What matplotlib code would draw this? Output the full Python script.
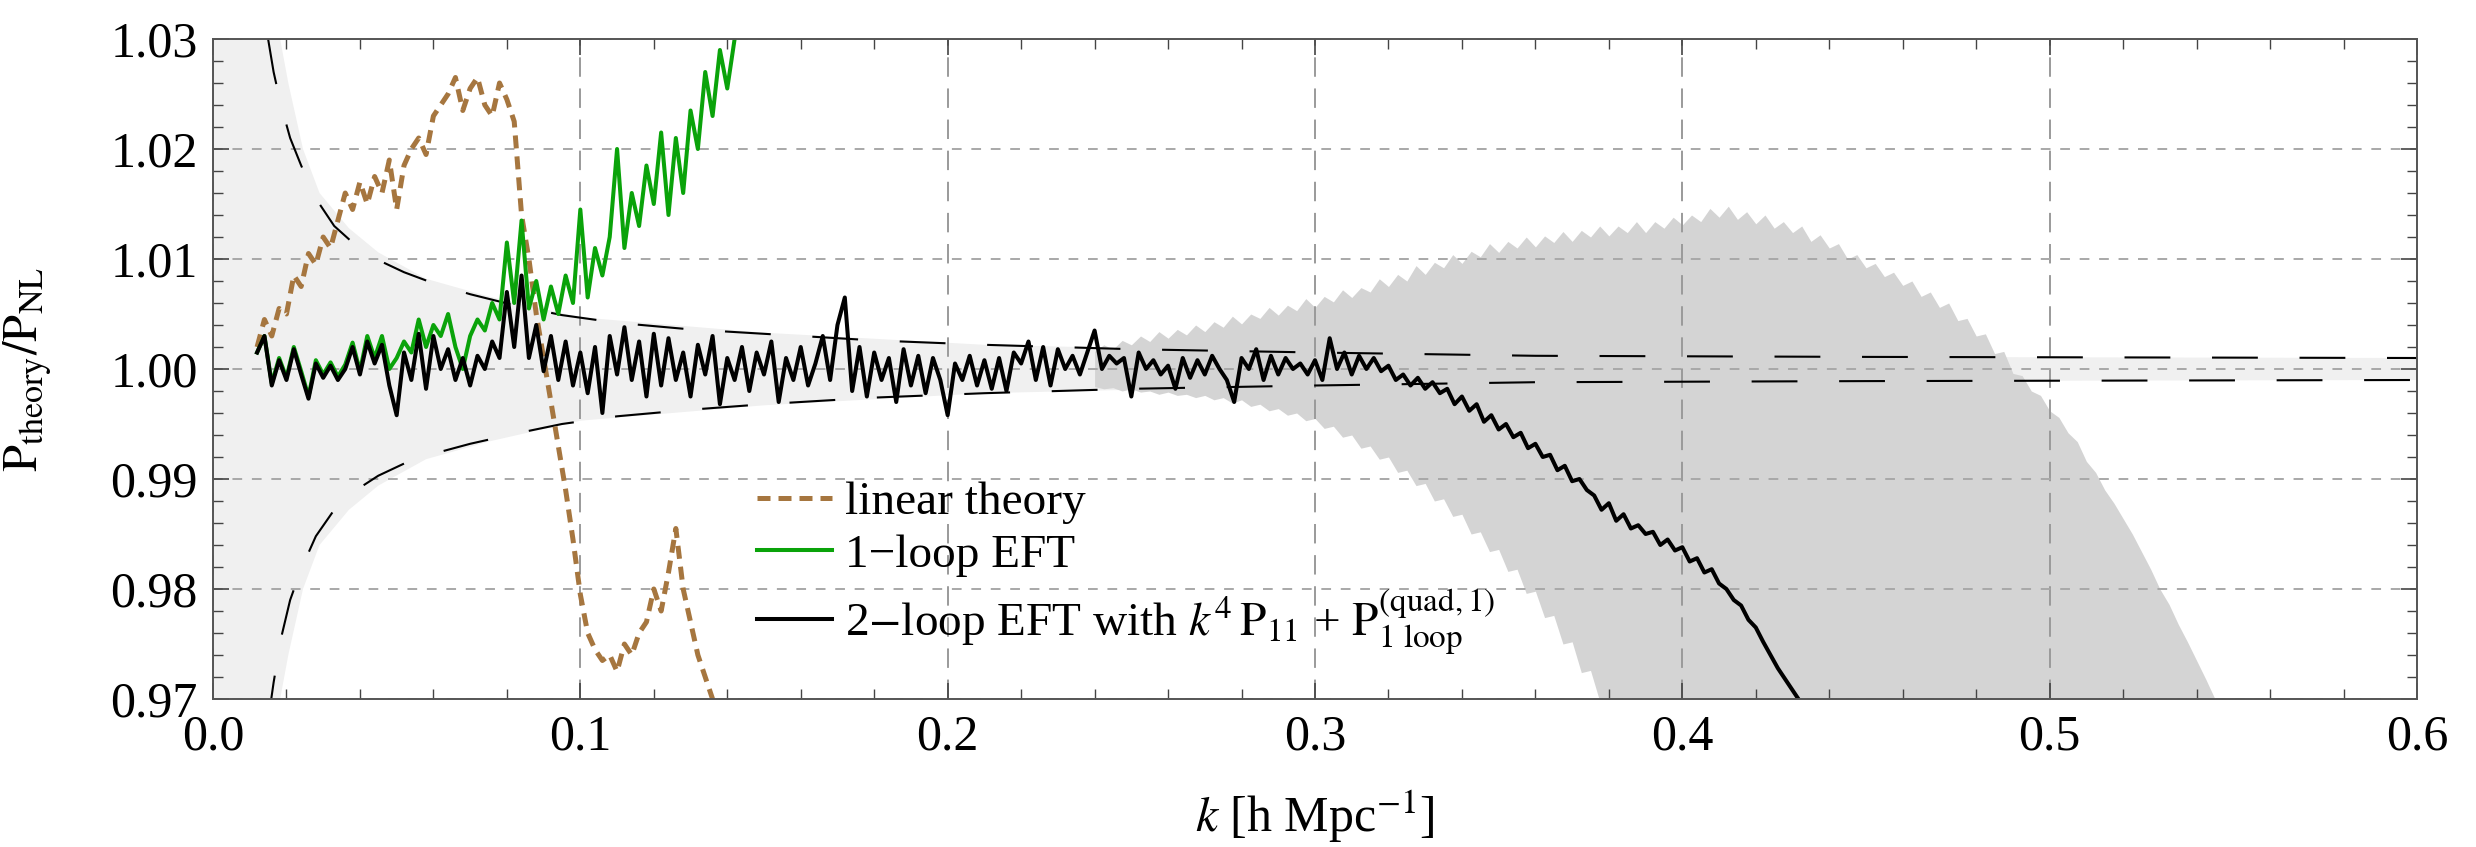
import matplotlib
matplotlib.use("Agg")
import matplotlib.pyplot as plt
import numpy as np
from matplotlib.ticker import MultipleLocator, FormatStrFormatter

plt.rcParams['font.family'] = ['Liberation Serif', 'DejaVu Serif']
plt.rcParams['mathtext.fontset'] = 'stix'

# ---------------- data ----------------
# 2-loop EFT (black), k from 0.012 step 0.002
k_black = [round(0.012 + 0.002 * i, 4) for i in range(211)]
black = [
    1.0015, 1.0030, 0.9985, 1.0008, 0.9990, 1.0018, 0.9995, 0.9973, 1.0005, 0.9992,
    1.0003, 0.9990, 1.0000, 1.0020, 0.9995, 1.0025, 1.0005, 1.0022, 0.9985, 0.9958,
    1.0015, 0.9990, 1.0032, 0.9982, 1.0030, 1.0000, 1.0018, 0.9990, 1.0010, 0.9985,
    1.0012, 1.0000, 1.0025, 1.0010, 1.0070, 1.0020, 1.0085, 1.0010, 1.0040, 0.9998,
    1.0030, 0.9990, 1.0025, 0.9985, 1.0015, 0.9978, 1.0020, 0.9960, 1.0030, 0.9995,
    1.0038, 0.9990, 1.0025, 0.9975, 1.0032, 0.9985, 1.0028, 0.9990, 1.0015, 0.9975,
    1.0022, 0.9995, 1.0030, 0.9968, 1.0010, 0.9990, 1.0020, 0.9980, 1.0015, 0.9995,
    1.0025, 0.9970, 1.0010, 0.9990, 1.0020, 0.9985, 1.0005, 1.0030, 0.9990, 1.0040,
    1.0065, 0.9980, 1.0020, 0.9975, 1.0015, 0.9990, 1.0010, 0.9970, 1.0018, 0.9985,
    1.0012, 0.9978, 1.0010, 0.9990, 0.9958, 1.0005, 0.9990, 1.0012, 0.9985, 1.0008,
    0.9982, 1.0010, 0.9980, 1.0015, 1.0005, 1.0025, 0.9990, 1.0020, 0.9985, 1.0018,
    1.0000, 1.0012, 0.9995, 1.0015, 1.0035, 1.0000, 1.0012, 1.0005, 1.0010, 0.9975,
    1.0015, 1.0000, 1.0008, 0.9995, 1.0003, 0.9982, 1.0010, 0.9992, 1.0008, 0.9995,
    1.0012, 1.0000, 0.9990, 0.9970, 1.0010, 1.0000, 1.0018, 0.9990, 1.0012, 0.9995,
    1.0010, 1.0000, 1.0005, 0.9995, 1.0008, 0.9990, 1.0028, 1.0000, 1.0015, 0.9995,
    1.0012, 1.0000, 1.0010, 0.9998, 1.0003, 0.9990, 0.9995, 0.9985, 0.9992, 0.9982,
    0.9988, 0.9978, 0.9982, 0.9968, 0.9975, 0.9962, 0.9968, 0.9952, 0.9958, 0.9945,
    0.9950, 0.9938, 0.9942, 0.9928, 0.9932, 0.9920, 0.9922, 0.9908, 0.9912, 0.9898,
    0.9900, 0.9890, 0.9885, 0.9872, 0.9878, 0.9862, 0.9868, 0.9855, 0.9858, 0.9850,
    0.9852, 0.9840, 0.9845, 0.9835, 0.9838, 0.9825, 0.9828, 0.9815, 0.9818, 0.9805,
    0.9800, 0.9790, 0.9785, 0.9772, 0.9765, 0.9752, 0.9740, 0.9728, 0.9718, 0.9708,
    0.9698,
]

# 1-loop EFT (green), k from 0.012 step 0.002
k_green = [round(0.012 + 0.002 * i, 4) for i in range(67)]
green = [
    1.0015, 1.0030, 0.9987, 1.0010, 0.9992, 1.0020, 0.9998, 0.9975, 1.0008, 0.9995,
    1.0006, 0.9993, 1.0004, 1.0024, 0.9998, 1.0030, 1.0010, 1.0030, 1.0000, 1.0010,
    1.0025, 1.0015, 1.0045, 1.0020, 1.0040, 1.0030, 1.0050, 1.0020, 1.0000, 1.0030,
    1.0045, 1.0035, 1.0060, 1.0045, 1.0115, 1.0060, 1.0135, 1.0055, 1.0080, 1.0045,
    1.0075, 1.0050, 1.0085, 1.0060, 1.0145, 1.0065, 1.0110, 1.0085, 1.0120, 1.0200,
    1.0110, 1.0160, 1.0130, 1.0185, 1.0150, 1.0215, 1.0140, 1.0210, 1.0160, 1.0235,
    1.0200, 1.0270, 1.0230, 1.0290, 1.0255, 1.0300, 1.0320,
]

# linear theory (brown), k from 0.012 step 0.002
k_lin = [round(0.012 + 0.002 * i, 4) for i in range(64)]
linear = [
    1.0020, 1.0045, 1.0030, 1.0055, 1.0050, 1.0085, 1.0075, 1.0105, 1.0095, 1.0120,
    1.0110, 1.0135, 1.0160, 1.0145, 1.0170, 1.0150, 1.0175, 1.0160, 1.0190, 1.0145,
    1.0185, 1.0200, 1.0210, 1.0195, 1.0230, 1.0240, 1.0250, 1.0265, 1.0235, 1.0255,
    1.0265, 1.0240, 1.0230, 1.0260, 1.0245, 1.0225, 1.0140, 1.0100, 1.0050, 1.0010,
    0.9970, 0.9930, 0.9890, 0.9845, 0.9795, 0.9760, 0.9745, 0.9735, 0.9740, 0.9725,
    0.9750, 0.9740, 0.9760, 0.9770, 0.9800, 0.9780, 0.9815, 0.9855, 0.9800, 0.9770,
    0.9740, 0.9720, 0.9700, 0.9680,
]

# dashed error envelope
k_env = [0.0150, 0.0165, 0.0185, 0.0210, 0.0240, 0.0280, 0.0330, 0.0390, 0.0450, 0.0520,
         0.0600, 0.0700, 0.0820, 0.0950, 0.1100, 0.1300, 0.1500, 0.1800, 0.2100, 0.2500,
         0.3000, 0.3600, 0.4500, 0.6000]
env_up = [1.0300, 1.0270, 1.0240, 1.0210, 1.0185, 1.0155, 1.0130, 1.0112, 1.0099, 1.0088,
          1.0078, 1.0068, 1.0058, 1.0049, 1.0042, 1.0036, 1.0032, 1.0026, 1.0022, 1.0018,
          1.0015, 1.0012, 1.0011, 1.0010]
env_lo = [0.9680, 0.9715, 0.9755, 0.9790, 0.9818, 0.9848, 0.9872, 0.9890, 0.9903, 0.9914,
          0.9923, 0.9932, 0.9941, 0.9950, 0.9957, 0.9963, 0.9968, 0.9974, 0.9978, 0.9982,
          0.9985, 0.9988, 0.9989, 0.9990]

# light shaded band
k_band = [0.000, 0.013, 0.016, 0.018, 0.0205, 0.0245, 0.029, 0.037, 0.045, 0.058,
          0.075, 0.100, 0.150, 0.210, 0.300, 0.450, 0.600]
band_up = [1.060, 1.045, 1.036, 1.0305, 1.0260, 1.0200, 1.0160, 1.0128, 1.0106, 1.0082,
           1.0066, 1.0047, 1.0033, 1.0022, 1.0015, 1.0011, 1.0010]
band_lo = [0.940, 0.955, 0.964, 0.9695, 0.9740, 0.9800, 0.9840, 0.9872, 0.9894, 0.9918,
           0.9934, 0.9953, 0.9967, 0.9978, 0.9985, 0.9989, 0.9990]

# darker shaded band (2-loop uncertainty), k from 0.2400 step 0.0025
k_dark = [round(0.240 + 0.0025 * i, 4) for i in range(125)]
dark_up = [
    1.0016, 1.0022, 1.0018, 1.0026, 1.0022, 1.0030, 1.0025, 1.0034,
    1.0028, 1.0036, 1.0031, 1.0040, 1.0034, 1.0043, 1.0038, 1.0048,
    1.0041, 1.0050, 1.0046, 1.0056, 1.0049, 1.0058, 1.0053, 1.0064,
    1.0056, 1.0066, 1.0061, 1.0072, 1.0065, 1.0074, 1.0070, 1.0082,
    1.0075, 1.0086, 1.0080, 1.0094, 1.0086, 1.0097, 1.0092, 1.0104,
    1.0096, 1.0107, 1.0102, 1.0114, 1.0106, 1.0116, 1.0110, 1.0120,
    1.0111, 1.0121, 1.0115, 1.0125, 1.0116, 1.0126, 1.0120, 1.0130,
    1.0121, 1.0130, 1.0124, 1.0134, 1.0124, 1.0134, 1.0128, 1.0138,
    1.0131, 1.0140, 1.0134, 1.0146, 1.0138, 1.0148, 1.0136, 1.0143,
    1.0132, 1.0140, 1.0128, 1.0134, 1.0124, 1.0130, 1.0116, 1.0122,
    1.0110, 1.0114, 1.0100, 1.0104, 1.0092, 1.0096, 1.0084, 1.0088,
    1.0076, 1.0080, 1.0066, 1.0070, 1.0056, 1.0060, 1.0044, 1.0046,
    1.0030, 1.0032, 1.0014, 1.0016, 0.9996, 0.9994, 0.9980, 0.9976,
    0.9962, 0.9956, 0.9942, 0.9934, 0.9916, 0.9906, 0.9890, 0.9878,
    0.9864, 0.9850, 0.9834, 0.9818, 0.9800, 0.9786, 0.9768, 0.9752,
    0.9735, 0.9718, 0.9700, 0.9684, 0.9668,
]
dark_lo = [
    0.9984, 0.9982, 0.9983, 0.9980, 0.9982, 0.9979, 0.9980, 0.9977, 0.9979, 0.9976,
    0.9977, 0.9974, 0.9976, 0.9972, 0.9974, 0.9969, 0.9972, 0.9966, 0.9968, 0.9962,
    0.9964, 0.9958, 0.9960, 0.9953, 0.9955, 0.9946, 0.9948, 0.9938, 0.9940, 0.9928,
    0.9930, 0.9918, 0.9920, 0.9906, 0.9908, 0.9894, 0.9896, 0.9880, 0.9882, 0.9866,
    0.9868, 0.9850, 0.9852, 0.9834, 0.9836, 0.9816, 0.9818, 0.9796, 0.9798, 0.9774,
    0.9776, 0.9750, 0.9752, 0.9724, 0.9726, 0.9698, 0.9684, 0.9664, 0.9644, 0.9624,
    0.9600, 0.9600, 0.9600, 0.9600, 0.9600, 0.9600, 0.9600, 0.9600, 0.9600, 0.9600,
    0.9600, 0.9600, 0.9600, 0.9600, 0.9600, 0.9600, 0.9600, 0.9600, 0.9600, 0.9600,
    0.9600, 0.9600, 0.9600, 0.9600, 0.9600, 0.9600, 0.9600, 0.9600, 0.9600, 0.9600,
    0.9600, 0.9600, 0.9600, 0.9600, 0.9600, 0.9600, 0.9600, 0.9600, 0.9600, 0.9600,
    0.9600, 0.9600, 0.9600, 0.9600, 0.9600, 0.9600, 0.9600, 0.9600, 0.9600, 0.9600,
    0.9600, 0.9600, 0.9600, 0.9600, 0.9600, 0.9600, 0.9600, 0.9600, 0.9600, 0.9600,
    0.9600, 0.9600, 0.9600, 0.9600, 0.9600,
]

x_ticks = [0.0, 0.1, 0.2, 0.3, 0.4, 0.5, 0.6]
y_ticks = [0.97, 0.98, 0.99, 1.00, 1.01, 1.02, 1.03]

labels = ["linear theory", "1\u2212loop EFT",
          r"2$-$loop EFT with $k^4\,\mathrm{P}_{11}$ + $\mathrm{P}^{(\mathrm{quad},1)}_{1\ \mathrm{loop}}$"]

# ---------------- plot ----------------
fig = plt.figure(figsize=(24.76, 8.47), dpi=100)
ax = fig.add_axes([213 / 2476, 1 - 699 / 847, 2204 / 2476, 660 / 847])

ax.fill_between(k_band, band_lo, band_up, color='#f0f0f0', lw=0, zorder=0.2)
ax.fill_between(k_dark, dark_lo, dark_up, color='#d4d4d4', lw=0, zorder=0.3)

ax.set_axisbelow(True)
ax.grid(True, which='major', axis='y', color='#a8a8a8', lw=1.4, ls=(0, (5, 5)))
ax.grid(True, which='major', axis='x', color='#9a9a9a', lw=1.4, ls=(0, (10, 6)))

ax.plot(k_env, env_up, color='black', lw=1.5, ls=(0, (22, 20)), zorder=1.5)
ax.plot(k_env, env_lo, color='black', lw=1.5, ls=(0, (22, 20)), zorder=1.5)

l_lin, = ax.plot(k_lin, linear, color='#a6763f', lw=3.6, ls=(0, (2.6, 1.6)), zorder=2)
l_grn, = ax.plot(k_green, green, color='#0aa30a', lw=2.9, zorder=2.2)
l_blk, = ax.plot(k_black, black, color='black', lw=2.9, zorder=2.4)

ax.set_xlim(0.0, 0.6)
ax.set_ylim(0.97, 1.03)
ax.set_xticks(x_ticks)
ax.set_yticks(y_ticks)
ax.xaxis.set_major_formatter(FormatStrFormatter('%.1f'))
ax.yaxis.set_major_formatter(FormatStrFormatter('%.2f'))
ax.xaxis.set_minor_locator(MultipleLocator(0.02))
ax.yaxis.set_minor_locator(MultipleLocator(0.002))
ax.tick_params(which='both', direction='in', top=True, right=True, colors='#444444',
               labelcolor='black', labelsize=36, pad=11)
ax.tick_params(which='major', length=11.5, width=1.2)
ax.tick_params(which='minor', length=7, width=1.0)
for s in ax.spines.values():
    s.set_color('#555555')
    s.set_linewidth(1.4)

ax.set_xlabel(r"$k$ [h Mpc$^{-1}$]", fontsize=36)
ax.set_ylabel(r"$\mathrm{P}_{\mathrm{theory}}/\mathrm{P}_{\mathrm{NL}}$", fontsize=35)
ax.xaxis.set_label_coords(0.5, -0.135)
ax.yaxis.set_label_coords(-0.072, 0.5)

leg = ax.legend([l_lin, l_grn, l_blk], labels, loc='upper left',
                bbox_to_anchor=(0.247, 0.33), frameon=False, fontsize=34,
                handlelength=1.57, handletextpad=0.28, borderpad=0, borderaxespad=0,
                labelspacing=0.2)

fig.savefig("out.png", dpi=100)
